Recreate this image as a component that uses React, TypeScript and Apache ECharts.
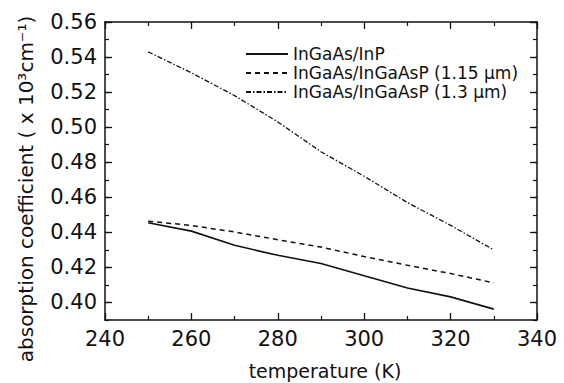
import React, { useEffect, useRef } from "react";
import * as echarts from "echarts";

const temperatures = [250, 260, 270, 280, 290, 300, 310, 320, 330];
const inGaAsInP = [0.4455, 0.4407, 0.4326, 0.4269, 0.4222, 0.4152, 0.4083, 0.4032, 0.3962];
const inGaAsP115 = [0.4464, 0.4439, 0.4402, 0.4358, 0.4316, 0.4262, 0.4212, 0.4165, 0.4112];
const inGaAsP13 = [0.543, 0.531, 0.518, 0.503, 0.486, 0.472, 0.457, 0.444, 0.43];
const seriesNames = ["InGaAs/InP", "InGaAs/InGaAsP (1.15 μm)", "InGaAs/InGaAsP (1.3 μm)"];
const yMajorTicks = [0.4, 0.42, 0.44, 0.46, 0.48, 0.5, 0.52, 0.54, 0.56];
const xTitle = "temperature (K)";
const yTitle = "absorption coefficient ( x 10³cm⁻¹)";

const FONT = "DejaVu Sans";
const INK = "#111";

export default function App() {
  const ref = useRef<HTMLDivElement>(null);
  useEffect(() => {
    if (!ref.current) return;
    const chart = echarts.init(ref.current, null, { renderer: "svg" });
    const pairs = (vals: number[]) => temperatures.map((t, i) => [t, vals[i]]);
    const axisLine = { show: true, lineStyle: { color: INK, width: 1.5 } };
    const xBase = (pos: "bottom" | "top", labels: boolean) => ({
      type: "value",
      position: pos,
      min: 240,
      max: 340,
      interval: 20,
      axisLine,
      axisTick: { show: true, inside: true, length: 7, lineStyle: { color: INK, width: 1.3 } },
      minorTick: { show: true, splitNumber: 2, length: 4, lineStyle: { color: INK, width: 1.2 } },
      axisLabel: labels
        ? { show: true, margin: 8, fontFamily: FONT, fontSize: 21, color: INK }
        : { show: false },
      splitLine: { show: false },
      minorSplitLine: { show: false },
    });
    const yMajor = (pos: "left" | "right", labels: boolean) => ({
      type: "value",
      position: pos,
      min: 0.39,
      max: 0.56,
      interval: 0.01,
      axisLine,
      axisTick: {
        show: true,
        inside: true,
        length: 7,
        customValues: yMajorTicks,
        lineStyle: { color: INK, width: 1.3 },
      },
      axisLabel: labels
        ? {
            show: true,
            margin: 8,
            fontFamily: FONT,
            fontSize: 21,
            color: INK,
            customValues: yMajorTicks,
            formatter: (v: number) => v.toFixed(2),
          }
        : { show: false },
      splitLine: { show: false },
    });
    const yMinor = (pos: "left" | "right") => ({
      type: "value",
      position: pos,
      min: 0.39,
      max: 0.56,
      interval: 0.01,
      axisLine: { show: false },
      axisTick: { show: true, inside: true, length: 4, lineStyle: { color: INK, width: 1.2 } },
      axisLabel: { show: false },
      splitLine: { show: false },
    });
    chart.setOption({
      animation: false,
      backgroundColor: "#fff",
      grid: { left: 105, right: 27, top: 22, bottom: 63, containLabel: false },
      xAxis: [xBase("bottom", true), xBase("top", false)],
      yAxis: [yMajor("left", true), yMinor("left"), yMajor("right", false), yMinor("right")],
      legend: {
        orient: "vertical",
        left: 240,
        top: 40,
        itemWidth: 42,
        itemHeight: 14,
        itemGap: 1,
        itemStyle: { opacity: 0 },
        textStyle: { fontFamily: FONT, fontSize: 17, color: INK, lineHeight: 18 },
        data: seriesNames,
      },
      graphic: [
        {
          type: "text",
          x: 325,
          y: 371,
          style: {
            text: xTitle,
            fontFamily: FONT,
            fontSize: 19,
            fill: INK,
            textAlign: "center",
            textVerticalAlign: "middle",
          },
        },
        {
          type: "text",
          x: 26,
          y: 189,
          rotation: Math.PI / 2,
          style: {
            text: yTitle,
            fontFamily: FONT,
            fontSize: 20,
            fill: INK,
            textAlign: "center",
            textVerticalAlign: "middle",
          },
        },
      ],
      series: [
        {
          name: seriesNames[0],
          type: "line",
          data: pairs(inGaAsInP),
          symbol: "none",
          lineStyle: { color: INK, width: 1.6, type: "solid" },
          itemStyle: { color: INK },
        },
        {
          name: seriesNames[1],
          type: "line",
          data: pairs(inGaAsP115),
          symbol: "none",
          lineStyle: { color: INK, width: 1.5, type: [5, 4] },
          itemStyle: { color: INK },
        },
        {
          name: seriesNames[2],
          type: "line",
          data: pairs(inGaAsP13),
          symbol: "none",
          lineStyle: { color: INK, width: 1.3, type: [5, 2, 1.5, 2] },
          itemStyle: { color: INK },
        },
      ],
    });
    return () => chart.dispose();
  }, []);
  return <div ref={ref} style={{ width: 564, height: 383, position: "absolute", left: 0, top: 0 }} />;
}
